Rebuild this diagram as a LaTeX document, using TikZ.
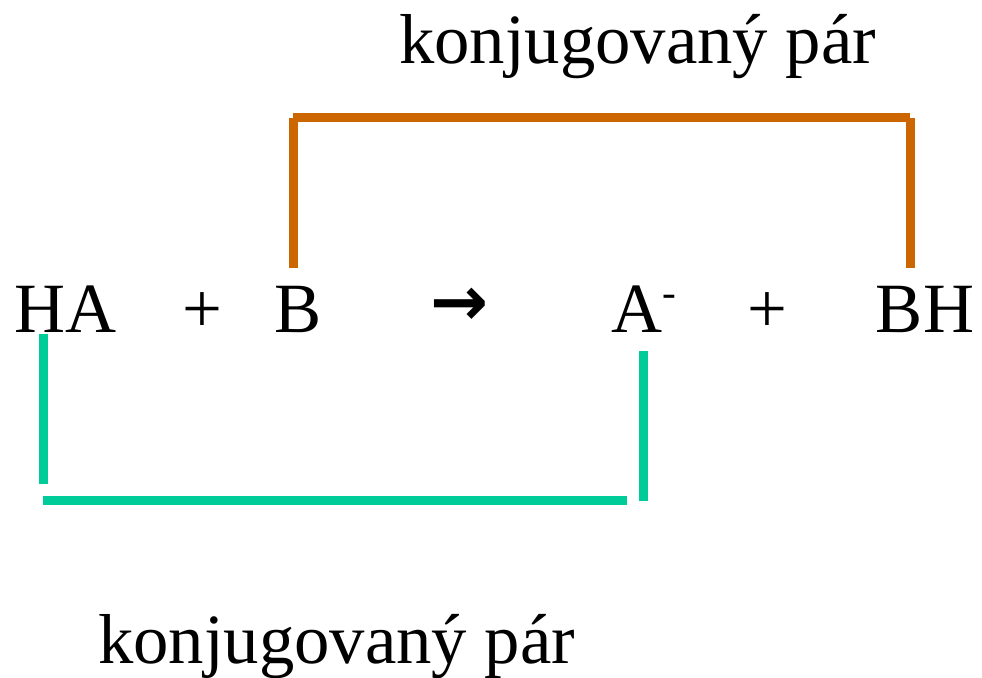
\documentclass[tikz,border=0pt]{standalone}
\usepackage{fontspec}
\setmainfont{Liberation Serif}
\newfontfamily\arrowfont{DejaVu Sans}
\usetikzlibrary{calc}
\definecolor{parorange}{RGB}{204,102,0}
\definecolor{parteal}{RGB}{0,204,153}

\begin{document}
\begin{tikzpicture}[x=0.75pt,y=-0.75pt,
    chem/.style={inner sep=0pt,anchor=base,font=\fontsize{53}{60}\selectfont},
    bracket/.style={line width=6.5pt,line cap=butt}]
  % picture frame in px
  \useasboundingbox (0,0) rectangle (982,678);
  \def\ybase{332}

  % reaction line
  \node[chem] (ha)   at (66,\ybase)    {HA};
  \node[chem] (plA)  at (202,\ybase)   {+};
  \node[chem] (b)    at (298.5,\ybase) {B};
  \node[chem] (arr)  at (460,\ybase)
    {\raisebox{5pt}{\arrowfont\bfseries\fontsize{52}{52}\selectfont →}};
  \node[chem] (am)   at (643.5,\ybase)
    {A\raisebox{19pt}{\fontsize{31}{31}\selectfont -}};
  \node[chem] (plB)  at (767.5,\ybase) {+};
  \node[chem] (bh)   at (925,\ybase)   {BH};

  % labels
  \node[chem] (partop) at (637.5,63)  {konjugovaný pár};
  \node[chem] (parbot) at (336.5,663) {konjugovaný pár};

  % orange pair B / BH
  \coordinate (o1) at (293.3,268);
  \coordinate (o2) at (293.3,118);
  \coordinate (o3) at (293,117.5);
  \coordinate (o4) at (910,117.5);
  \coordinate (o5) at (910.3,118);
  \coordinate (o6) at (910.3,268);
  \draw[bracket,parorange] (o1) -- (o2);
  \draw[bracket,parorange] (o3) -- (o4);
  \draw[bracket,parorange] (o5) -- (o6);

  % teal pair HA / A-
  \coordinate (t1) at (43.3,334);
  \coordinate (t2) at (43.3,483.7);
  \coordinate (t3) at (42.7,500.3);
  \coordinate (t4) at (626.7,500.3);
  \coordinate (t5) at (643.3,350.7);
  \coordinate (t6) at (643.3,500.7);
  \draw[bracket,parteal] (t1) -- (t2);
  \draw[bracket,parteal] (t3) -- (t4);
  \draw[bracket,parteal] (t5) -- (t6);
\end{tikzpicture}
\end{document}
